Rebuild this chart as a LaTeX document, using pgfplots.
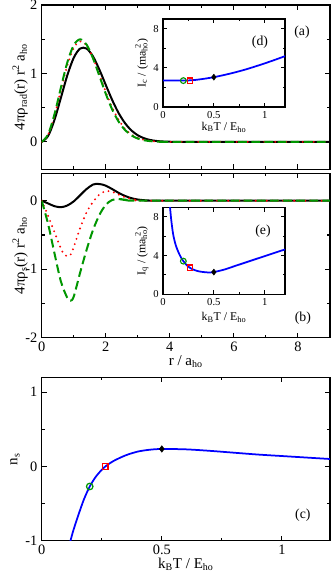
\documentclass[border=0pt]{standalone}
\usepackage{fontspec}
\setmainfont{Liberation Serif}
\usepackage{pgfplots}
\pgfplotsset{compat=1.18}

\definecolor{dgreen}{RGB}{0,150,0}
\newcommand{\ho}{\textsubscript{ho}}
\newcommand{\mahosq}{ma\rlap{\textsuperscript{\kern0.3em 2}}\textsubscript{ho}}

\pgfplotsset{
  panel/.style={
    scale only axis, width=230.6pt, anchor=north west,
    axis line style={line width=1.1pt},
    tick style={line width=0.9pt, black},
    tick align=inside, major tick length=4pt, minor tick length=2.5pt,
    ticklabel style={font=\fontsize{11.5}{13}\selectfont},
    label style={font=\fontsize{12}{14}\selectfont},
    /pgf/number format/assume math mode=true,
  },
  inset/.style={
    scale only axis, width=97.6pt, anchor=north west,
    axis background/.style={fill=white},
    xmin=0, xmax=1.2, ymin=0, ymax=9,
    xtick={0,0.5,1}, minor xtick={0.25,0.75},
    ytick={0,4,8}, minor ytick={2,6},
    axis line style={line width=0.9pt},
    tick style={line width=0.8pt, black},
    tick align=inside, major tick length=3.5pt, minor tick length=2pt,
    ticklabel style={font=\fontsize{8.5}{10}\selectfont},
    label style={font=\fontsize{9.5}{11}\selectfont},
    /pgf/number format/assume math mode=true,
    xlabel={k\textsubscript{B}T / E\ho},
    ylabel style={at={(axis description cs:-0.175,0.5)}, anchor=center},
  },
  blk/.style={black, line width=1.6pt},
  rdot/.style={red, line width=1.7pt, line cap=round, dash pattern=on 0pt off 4.4pt},
  gdash/.style={dgreen, line width=1.6pt, dash pattern=on 7pt off 3.5pt},
  bl/.style={blue, line width=1.4pt},
}

\begin{document}
\begin{tikzpicture}
\useasboundingbox (0pt,0pt) rectangle (265.6pt,-460pt);

% (a) radial density
\begin{axis}[panel, at={(33.36pt,-4pt)}, height=131.44pt,
  xmin=0, xmax=9, ymin=-0.4, ymax=2,
  xtick={0,2,4,6,8}, minor xtick={1,3,5,7}, xticklabels={},
  ytick={0,1,2}, minor ytick={0.5,1.5},
  ylabel={4πρ\textsubscript{rad}(r) r\textsuperscript{2} a\ho},
  ylabel style={at={(axis description cs:-0.075,0.5)}, anchor=center},
]
\addplot[blk, smooth] coordinates {
 (0,0) (0.2,0.087) (0.4,0.323) (0.6,0.646) (0.8,0.973) (1.0,1.229)
 (1.2,1.364) (1.4,1.364) (1.6,1.250) (1.8,1.057) (2.0,0.833) (2.2,0.613)
 (2.4,0.423) (2.6,0.275) (2.8,0.168) (3.0,0.097) (3.2,0.053) (3.4,0.027)
 (3.6,0.013) (3.8,0.006) (4.0,0.003) (4.5,0) (9,0)};
\addplot[rdot, smooth] coordinates {
 (0,0) (0.2,0.104) (0.4,0.385) (0.6,0.758) (0.8,1.117) (1.0,1.371)
 (1.2,1.469) (1.4,1.411) (1.6,1.232) (1.8,0.988) (2.0,0.732) (2.2,0.504)
 (2.4,0.324) (2.6,0.194) (2.8,0.109) (3.0,0.057) (3.2,0.029) (3.4,0.013)
 (3.6,0.006) (3.8,0.002) (4.0,0) (9,0)};
\addplot[gdash, smooth] coordinates {
 (0,0) (0.2,0.110) (0.4,0.405) (0.6,0.793) (0.8,1.161) (1.0,1.413)
 (1.2,1.499) (1.4,1.422) (1.6,1.224) (1.8,0.966) (2.0,0.704) (2.2,0.475)
 (2.4,0.298) (2.6,0.175) (2.8,0.096) (3.0,0.049) (3.2,0.024) (3.4,0.011)
 (3.6,0.005) (3.8,0.002) (4.0,0) (9,0)};
\node[font=\fontsize{11}{13}\selectfont] at (rel axis cs:0.903,0.836) {(a)};
\end{axis}

% (d) inset
\begin{axis}[inset, at={(130.4pt,-15.2pt)}, height=70.4pt,
  ylabel={I\textsubscript{c} / (\mahosq)},
  xlabel style={at={(axis description cs:0.5,-0.23)}, anchor=center},
]
\addplot[bl, smooth] coordinates {
 (0,2.7) (0.1,2.7) (0.2,2.7) (0.3,2.75) (0.4,2.88) (0.5,3.05) (0.6,3.27)
 (0.7,3.52) (0.8,3.8) (0.9,4.12) (1.0,4.46) (1.1,4.82) (1.2,5.2)};
\addplot[only marks, mark=o, mark size=2.3pt, dgreen, line width=0.9pt] coordinates {(0.2,2.7)};
\addplot[only marks, mark=square, mark size=2.1pt, red, line width=1pt] coordinates {(0.265,2.7)};
\addplot[only marks, mark=diamond*, mark size=2.4pt, black] coordinates {(0.5,3.05)};
\node[font=\fontsize{11}{13}\selectfont] at (rel axis cs:0.795,0.74) {(d)};
\end{axis}

% (b) superfluid density
\begin{axis}[panel, at={(33.36pt,-138.64pt)}, height=131.52pt,
  xmin=0, xmax=9, ymin=-2, ymax=0.4,
  xtick={0,2,4,6,8}, minor xtick={1,3,5,7},
  ytick={-2,-1,0}, minor ytick={-1.5,-0.5},
  xlabel={r / a\ho},
  xlabel style={at={(axis description cs:0.5,-0.145)}, anchor=center},
  ylabel={4πρ\textsubscript{s}(r) r\textsuperscript{2} a\ho},
  ylabel style={at={(axis description cs:-0.075,0.5)}, anchor=center},
]
\addplot[blk, smooth] coordinates {
 (0,0) (0.2,-0.04) (0.4,-0.08) (0.6,-0.095) (0.8,-0.07) (1.0,-0.01)
 (1.2,0.08) (1.4,0.17) (1.6,0.235) (1.75,0.245) (1.9,0.235) (2.0,0.22)
 (2.2,0.17) (2.4,0.115) (2.6,0.07) (2.8,0.037) (3.0,0.017) (3.2,0.007)
 (3.4,0.002) (3.6,0) (9,0)};
\addplot[rdot, smooth] coordinates {
 (0,0) (0.2,-0.22) (0.4,-0.46) (0.6,-0.70) (0.7,-0.78) (0.8,-0.81)
 (0.9,-0.79) (1.0,-0.68) (1.2,-0.40) (1.4,-0.17) (1.6,-0.02) (1.8,0.09)
 (2.0,0.14) (2.2,0.13) (2.4,0.09) (2.6,0.05) (2.8,0.025) (3.0,0.01)
 (3.4,0) (9,0)};
\addplot[gdash, smooth] coordinates {
 (0,0) (0.2,-0.34) (0.4,-0.77) (0.6,-1.18) (0.8,-1.42) (0.9,-1.46)
 (1.0,-1.40) (1.2,-1.05) (1.4,-0.72) (1.6,-0.43) (1.8,-0.21) (2.0,-0.06)
 (2.2,0.01) (2.4,0.025) (2.6,0.015) (2.8,0.005) (3.2,0) (9,0)};
\node[font=\fontsize{11}{13}\selectfont] at (rel axis cs:0.906,0.12) {(b)};
\end{axis}

% (e) inset
\begin{axis}[inset, at={(130.4pt,-165.84pt)}, height=69.6pt,
  ylabel={I\textsubscript{q} / (\mahosq)},
  xlabel style={at={(axis description cs:0.5,-0.27)}, anchor=center},
]
\addplot[bl, smooth] coordinates {
 (0.065,9.5) (0.08,7.8) (0.1,6.2) (0.125,5.1) (0.15,4.4) (0.175,3.85)
 (0.2,3.43) (0.25,2.85) (0.3,2.55) (0.35,2.38) (0.4,2.3) (0.45,2.26)
 (0.5,2.3) (0.6,2.55) (0.7,2.9) (0.8,3.25) (0.9,3.6) (1.0,3.95)
 (1.1,4.3) (1.2,4.64)};
\addplot[only marks, mark=o, mark size=2.3pt, dgreen, line width=0.9pt] coordinates {(0.2,3.43)};
\addplot[only marks, mark=square, mark size=2.1pt, red, line width=1pt] coordinates {(0.265,2.75)};
\addplot[only marks, mark=diamond*, mark size=2.4pt, black] coordinates {(0.5,2.3)};
\node[font=\fontsize{11}{13}\selectfont] at (rel axis cs:0.82,0.72) {(e)};
\end{axis}

% (c) superfluid fraction
\begin{axis}[panel, at={(33.36pt,-301.84pt)}, height=130.72pt,
  xmin=0, xmax=1.2, ymin=-1, ymax=1.2,
  xtick={0,0.5,1}, minor xtick={0.25,0.75},
  ytick={-1,0,1}, minor ytick={-0.5,0.5},
  xlabel={k\textsubscript{B}T / E\ho},
  xlabel style={at={(axis description cs:0.5,-0.143)}, anchor=center},
  ylabel={n\textsubscript{s}},
  ylabel style={at={(axis description cs:-0.093,0.5)}, anchor=center},
]
\addplot[bl, smooth] coordinates {
 (0.115,-1.06) (0.13,-0.88) (0.15,-0.68) (0.175,-0.45) (0.2,-0.27)
 (0.225,-0.14) (0.25,-0.045) (0.265,0) (0.3,0.075) (0.35,0.15)
 (0.4,0.20) (0.45,0.225) (0.5,0.235) (0.6,0.23) (0.7,0.21) (0.8,0.185)
 (0.9,0.16) (1.0,0.14) (1.1,0.12) (1.2,0.10)};
\addplot[only marks, mark=o, mark size=2.6pt, dgreen, line width=1pt] coordinates {(0.2,-0.27)};
\addplot[only marks, mark=square, mark size=2.2pt, red, line width=1pt] coordinates {(0.265,0)};
\addplot[only marks, mark=diamond*, mark size=2.6pt, black] coordinates {(0.5,0.235)};
\node[font=\fontsize{11}{13}\selectfont] at (rel axis cs:0.906,0.157) {(c)};
\end{axis}
\end{tikzpicture}
\end{document}
